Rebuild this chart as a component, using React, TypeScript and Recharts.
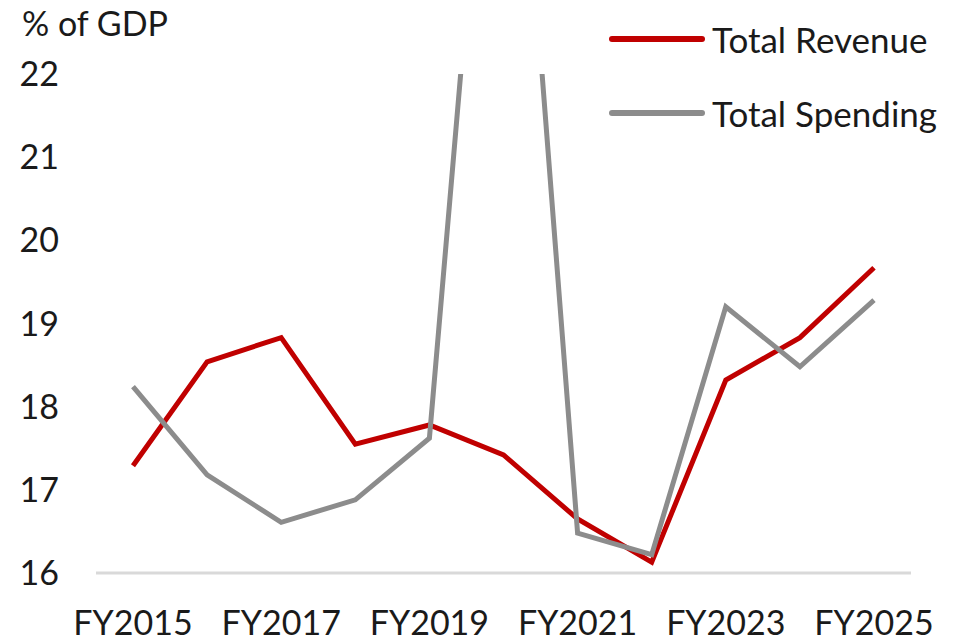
import React from "react";
import { Legend, Line, LineChart, XAxis, YAxis } from "recharts";

const years = [
  "FY2015", "FY2016", "FY2017", "FY2018", "FY2019", "FY2020",
  "FY2021", "FY2022", "FY2023", "FY2024", "FY2025",
];
const revenue = [17.29, 18.54, 18.83, 17.55, 17.78, 17.42, 16.65, 16.13, 18.32, 18.83, 19.67];
// FY2020 spending runs off the top of the axis (about 28% of GDP)
const spending = [18.24, 17.18, 16.61, 16.88, 17.62, 28.0, 16.48, 16.22, 19.2, 18.48, 19.28];
const yTicks = [16, 17, 18, 19, 20, 21, 22];

const data = years.map((year, i) => ({
  year,
  revenue: revenue[i],
  spending: spending[i],
}));

const FONT = "Lato, 'Open Sans', sans-serif";
const TEXT = "#1a1a1a";
const RED = "#C00000";
const GRAY = "#8C8C8C";

function LegendBox({ payload }: any) {
  return (
    <div style={{ fontFamily: FONT, fontSize: 35, color: TEXT }}>
      {(payload || []).map((item: any) => (
        <div key={item.value} style={{ display: "flex", alignItems: "center", height: 74 }}>
          <svg width={100} height={8} style={{ marginRight: 4 }}>
            <line x1={4} y1={4} x2={94} y2={4} stroke={item.color} strokeWidth={6} strokeLinecap="round" />
          </svg>
          <span>{item.value}</span>
        </div>
      ))}
    </div>
  );
}

export default function App() {
  return (
    <div style={{ position: "absolute", left: 0, top: 0, width: 971, height: 641, background: "#fff" }}>
      <div
        style={{
          position: "absolute",
          left: 22,
          top: 6,
          fontFamily: FONT,
          fontSize: 34,
          lineHeight: "34px",
          color: TEXT,
        }}
      >
        % of GDP
      </div>
      <LineChart
        width={971}
        height={641}
        data={data}
        margin={{ top: 74, right: 60, bottom: 0, left: 0 }}
        style={{ fontFamily: FONT }}
      >
        <XAxis
          dataKey="year"
          interval={1}
          height={68}
          tickSize={0}
          tickMargin={38}
          padding={{ left: 37, right: 37 }}
          axisLine={{ stroke: "#D9D9D9", strokeWidth: 3 }}
          tick={{ fill: TEXT, fontSize: 34 }}
        />
        <YAxis
          domain={[16, 22]}
          ticks={yTicks}
          allowDataOverflow
          width={96}
          tickSize={0}
          tickMargin={37}
          axisLine={false}
          tick={{ fill: TEXT, fontSize: 34 }}
        />
        <Legend
          layout="vertical"
          align="center"
          verticalAlign="middle"
          wrapperStyle={{ left: 608, top: 2, width: 360, height: 150 }}
          content={<LegendBox />}
        />
        <Line
          type="linear"
          dataKey="revenue"
          name="Total Revenue"
          stroke={RED}
          strokeWidth={5}
          dot={false}
          isAnimationActive={false}
        />
        <Line
          type="linear"
          dataKey="spending"
          name="Total Spending"
          stroke={GRAY}
          strokeWidth={5}
          dot={false}
          isAnimationActive={false}
        />
      </LineChart>
    </div>
  );
}
